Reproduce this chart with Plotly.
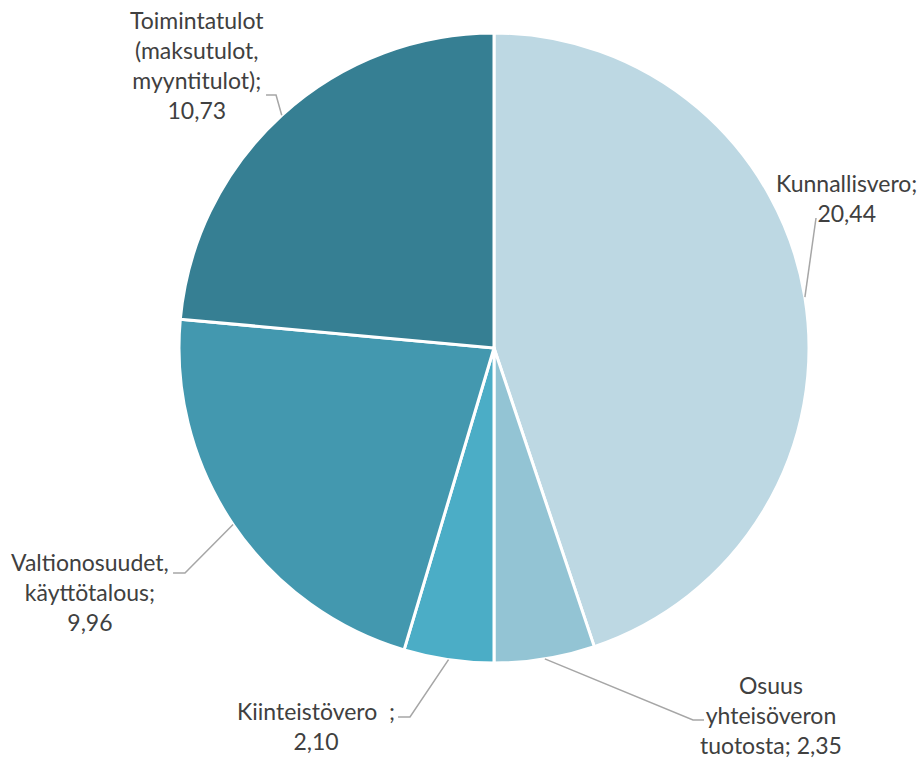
import math
import plotly.graph_objects as go

# data
labels = ["Kunnallisvero", "Osuus yhteisöveron tuotosta", "Kiinteistövero",
          "Valtionosuudet, käyttötalous", "Toimintatulot (maksutulot, myyntitulot)"]
values = [20.44, 2.35, 2.10, 9.96, 10.73]
label_text = [
    "Kunnallisvero;<br>20,44",
    "Osuus<br>yhteisöveron<br>tuotosta; 2,35",
    "Kiinteistövero  ;<br>2,10",
    "Valtionosuudet,<br>käyttötalous;<br>9,96",
    "Toimintatulot<br>(maksutulot,<br>myyntitulot);<br>10,73",
]
colors = ["#BDD8E3", "#93C4D4", "#4BADC6", "#4398AF", "#367F93"]

W, H = 918, 758
CX, CY, R = 494, 348, 315

# label placement (pixels): text centre, elbow points of the leader line
label_pos = [(846, 198), (771, 715), (316, 726), (90, 592), (197, 65)]
elbows = [
    [(816, 218)],
    [(693, 720), (704, 720)],
    [(410, 717), (398, 717)],
    [(185, 573), (173, 573)],
    [(276, 95), (266, 95)],
]


def to_paper(x, y):
    return x / W, 1 - y / H


fig = go.Figure(go.Pie(
    labels=labels,
    values=values,
    sort=False,
    direction="clockwise",
    rotation=0,
    marker=dict(colors=colors, line=dict(color="white", width=3)),
    textinfo="none",
    hoverinfo="label+value",
    showlegend=False,
    domain=dict(x=[(CX - R) / W, (CX + R) / W], y=[1 - (CY + R) / H, 1 - (CY - R) / H]),
))

total = sum(values)
cum = 0
shapes = []
annotations = []
for i, v in enumerate(values):
    mid = (cum + v / 2) / total * 2 * math.pi
    cum += v
    ex = CX + R * math.sin(mid)
    ey = CY - R * math.cos(mid)
    pts = [(ex, ey)] + elbows[i]
    path = "M " + " L ".join("%.4f,%.4f" % to_paper(x, y) for x, y in pts)
    shapes.append(dict(type="path", xref="paper", yref="paper", path=path,
                       line=dict(color="#A6A6A6", width=1.5)))
    tx, ty = to_paper(*label_pos[i])
    annotations.append(dict(x=tx, y=ty, xref="paper", yref="paper", text=label_text[i],
                            showarrow=False, align="center", xanchor="center", yanchor="middle",
                            font=dict(family="Lato", size=23, color="#404040")))

fig.update_layout(
    width=W, height=H, autosize=False,
    margin=dict(l=0, r=0, t=0, b=0),
    paper_bgcolor="white", plot_bgcolor="white",
    shapes=shapes, annotations=annotations,
)

fig.write_html("out.html", config={"displayModeBar": False},
               post_script="document.body.style.margin='0';document.body.style.overflow='hidden';")
